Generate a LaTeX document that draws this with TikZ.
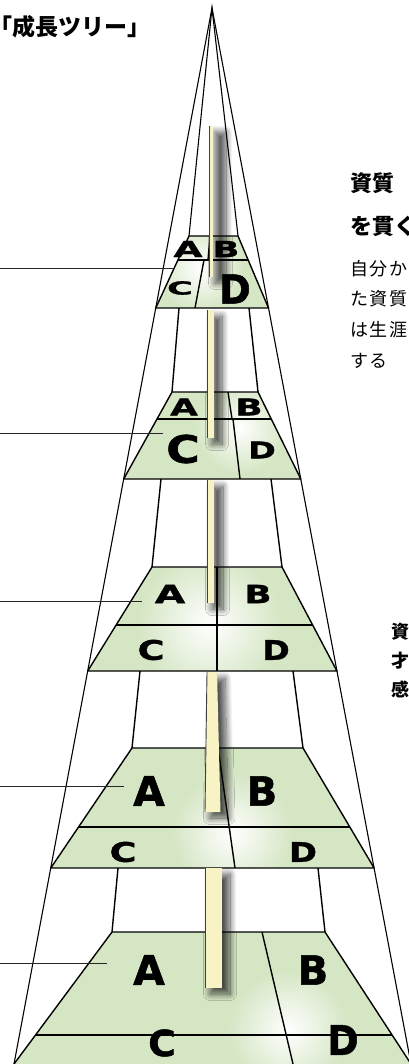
\documentclass[tikz,border=0pt]{standalone}
\usepackage{fontspec}
\usepackage{graphicx}
\usetikzlibrary{shadows.blur,fadings}
\newfontfamily\abcd[BoldFeatures={FakeBold=1.3}]{DejaVu Sans}
\newfontfamily\jp{Noto Sans CJK JP}
\definecolor{tgreen}{RGB}{213,230,196}
\definecolor{pyellow}{RGB}{247,243,197}
\newcommand{\abcdl}[3]{{\fontsize{#1pt}{#1pt}\selectfont\abcd\bfseries\scalebox{#2}[1]{#3}}}
\tikzfading[name=glowfade, inner color=transparent!0, outer color=transparent!100]
\tikzset{
  tier/.style={fill=tgreen},
  edge/.style={line width=1.4pt, black, line join=round},
  outerln/.style={line width=1.1pt, black},
  lead/.style={line width=1pt, black!85},
  pshadow/.style={blur shadow={shadow xshift=5pt, shadow yshift=-6pt, shadow blur radius=6.5pt, shadow opacity=68, shadow blur steps=16}},
  pil/.style={fill=pyellow},
  pedge/.style={line width=0.9pt, black!75},
  lbl/.style={inner sep=0pt, anchor=center},
  glow/.style={fill=white, path fading=glowfade},
  head/.style={anchor=west, inner sep=0pt, font=\jp\bfseries\fontsize{22pt}{22pt}\selectfont},
  body/.style={anchor=west, inner sep=0pt, font=\jp\fontsize{18pt}{18pt}\selectfont\addfontfeature{LetterSpace=9}},
  small/.style={anchor=west, inner sep=0pt, font=\jp\bfseries\fontsize{18pt}{18pt}\selectfont},
}
\begin{document}
\begin{tikzpicture}[x=1pt,y=-1pt]
\useasboundingbox (0,0) rectangle (408,1064);

% ---- key points
\coordinate (apex) at (212,8);
\coordinate (OL) at (14,1064);
\coordinate (OR) at (411,1064);

% ---- green tiers
\fill[tier] (189,236) -- (238,236) -- (268.5,308) -- (155.75,308) -- cycle;
\fill[tier] (172,392) -- (258,392) -- (300.8,479) -- (123.7,479) -- cycle;
\fill[tier] (152,567) -- (282,567) -- (336.9,671) -- (87.7,671) -- cycle;
\fill[tier] (132,748) -- (303,748) -- (374.1,868) -- (50.8,868) -- cycle;
\fill[tier] (112,932) -- (325,932) -- (411,1064) -- (14,1064) -- cycle;

% ---- glows
\begin{scope}
\clip (189,236) -- (238,236) -- (268.5,308) -- (155.75,308) -- cycle;
\fill[glow] (200,268) circle[radius=44pt];
\end{scope}
\begin{scope}
\clip (172,392) -- (258,392) -- (300.8,479) -- (123.7,479) -- cycle;
\fill[glow] (240,428) circle[radius=46pt];
\end{scope}
\begin{scope}
\clip (152,567) -- (282,567) -- (336.9,671) -- (87.7,671) -- cycle;
\fill[glow] (210,624) circle[radius=72pt];
\end{scope}
\begin{scope}
\clip (132,748) -- (303,748) -- (374.1,868) -- (50.8,868) -- cycle;
\fill[glow] (232,834) circle[radius=60pt];
\end{scope}
\begin{scope}
\clip (112,932) -- (325,932) -- (411,1064) -- (14,1064) -- cycle;
\fill[glow] (288,1030) circle[radius=60pt];
\end{scope}

% ---- outer triangle and apex lines
\draw[outerln] (OL) -- (apex) -- (OR);
\draw[outerln] (189,236) -- (apex) -- (238,236);

% ---- tier outlines, middle lines, dividers
\draw[edge] (189,236) -- (238,236) -- (268.5,308) -- (155.75,308) -- cycle;
\draw[edge] (177.9,260) -- (248.2,260);
\draw[edge] (210,236) -- (208,260);
\draw[edge] (204,260) -- (195,308);

\draw[edge] (172,392) -- (258,392) -- (300.8,479) -- (123.7,479) -- cycle;
\draw[edge] (157,419) -- (271.3,419);
\draw[edge] (228,392) -- (232,419);
\draw[edge] (233,419) -- (240,479);

\draw[edge] (152,567) -- (282,567) -- (336.9,671) -- (87.7,671) -- cycle;
\draw[edge] (116.1,625) -- (312.6,625);
\draw[edge] (217,567) -- (217,671);

\draw[edge] (132,748) -- (303,748) -- (374.1,868) -- (50.8,868) -- cycle;
\draw[edge] (78.5,827) -- (349.8,827);
\draw[edge] (218,748) -- (235,868);

\draw[edge] (112,932) -- (325,932) -- (411,1064);
\draw[edge] (14,1064) -- (112,932);
\draw[edge] (35.5,1035) -- (392.1,1035);
\draw[edge] (262,932) -- (293,1064);

% ---- connectors between tiers
\draw[edge] (179,308) -- (172,392);
\draw[edge] (249,308) -- (258,392);
\draw[edge] (161,479) -- (152,567);
\draw[edge] (271,479) -- (282,567);
\draw[edge] (140,671) -- (132,748);
\draw[edge] (293,671) -- (303,748);
\draw[edge] (118,868) -- (112,932);
\draw[edge] (318,868) -- (325,932);

% ---- pillar shadows
\path[pshadow] (210,126) rectangle (221,277);
\path[pshadow] (207,310) rectangle (217,438);
\path[pshadow] (207,480) rectangle (218,603);
\path[pshadow] (207,672) -- (220,672) -- (223.5,812) -- (205,812) -- cycle;
\path[pshadow] (205,868) rectangle (225,988);

% ---- pillar segments
\fill[pil] (209.5,126) -- (212.5,126) -- (212.5,277) -- (209.5,277) -- cycle;
\draw[pedge] (209.5,126) -- (209.5,277);
\fill[pil] (207,310) -- (213.5,310) -- (213.5,438) -- (207,438) -- cycle;
\draw[pedge] (207,310) -- (207,438);
\fill[pil] (207,480) -- (214,480) -- (214,603) -- (207,603) -- cycle;
\draw[pedge] (207,480) -- (207,603);
\fill[pil] (207,672) -- (217,672) -- (220.5,812) -- (205,812) -- cycle;
\draw[pedge] (207,672) -- (205,812);
\fill[pil] (205,868) -- (222,868) -- (222,988) -- (205,988) -- cycle;
\draw[pedge] (205,868) -- (205,988);

% ---- letters
\node[lbl] (t1A) at (188,249) {\abcdl{22}{1.7}{A}};
\node[lbl] (t1B) at (226,249) {\abcdl{22}{1.6}{B}};
\node[lbl] (t1C) at (180,288) {\abcdl{18}{1.95}{C}};
\node[lbl] (t1D) at (235,289) {\abcdl{40}{0.95}{D}};

\node[lbl] (t2A) at (184,407) {\abcdl{23}{1.55}{A}};
\node[lbl] (t2B) at (249,407) {\abcdl{23}{1.55}{B}};
\node[lbl] (t2C) at (183,449) {\abcdl{38}{1.2}{C}};
\node[lbl] (t2D) at (262,450) {\abcdl{23}{1.45}{D}};

\node[lbl] (t3A) at (170,594) {\abcdl{25}{1.57}{A}};
\node[lbl] (t3B) at (258,594) {\abcdl{25}{1.42}{B}};
\node[lbl] (t3C) at (151,650) {\abcdl{27}{1.35}{C}};
\node[lbl] (t3D) at (276,650) {\abcdl{27}{1.23}{D}};

\node[lbl] (t4A) at (149,791) {\abcdl{41}{1.0}{A}};
\node[lbl] (t4B) at (262,791) {\abcdl{40}{1.0}{B}};
\node[lbl] (t4C) at (123,852) {\abcdl{27}{1.35}{C}};
\node[lbl] (t4D) at (303,852) {\abcdl{27}{1.25}{D}};

\node[lbl] (t5A) at (149,970) {\abcdl{41}{1.0}{A}};
\node[lbl] (t5B) at (313,970) {\abcdl{40}{1.0}{B}};
\node[lbl] (t5C) at (162,1043) {\abcdl{36}{1.04}{C}};
\node[lbl] (t5D) at (343,1040) {\abcdl{41}{0.92}{D}};

% ---- leader lines
\coordinate (L1a) at (0,269); \coordinate (L1b) at (175,269);
\coordinate (L2a) at (0,433); \coordinate (L2b) at (163,433);
\coordinate (L3a) at (0,601); \coordinate (L3b) at (142,601);
\coordinate (L4a) at (0,786); \coordinate (L4b) at (124,786);
\coordinate (L5a) at (0,963); \coordinate (L5b) at (107,963);
\draw[lead] (L1a) -- (L1b);
\draw[lead] (L2a) -- (L2b);
\draw[lead] (L3a) -- (L3b);
\draw[lead] (L4a) -- (L4b);
\draw[lead] (L5a) -- (L5b);

% ---- texts
\node[anchor=west, inner sep=0pt, font=\jp\bfseries\fontsize{23pt}{23pt}\selectfont] (title) at (0,27) {\hspace*{-0.45em}「成長ツリー」};
\node[head] (h1) at (350,183) {資質};
\node[head] (h2) at (350,226) {を貫く};
\node[body] (b1) at (350,269) {自分か};
\node[body] (b2) at (350,299) {た資質};
\node[body] (b3) at (350,330) {は生涯};
\node[body] (b4) at (350,361) {する};
\node[small] (s1) at (391,632) {資};
\node[small] (s2) at (391,661) {才};
\node[small] (s3) at (391,689) {感};
\end{tikzpicture}
\end{document}
